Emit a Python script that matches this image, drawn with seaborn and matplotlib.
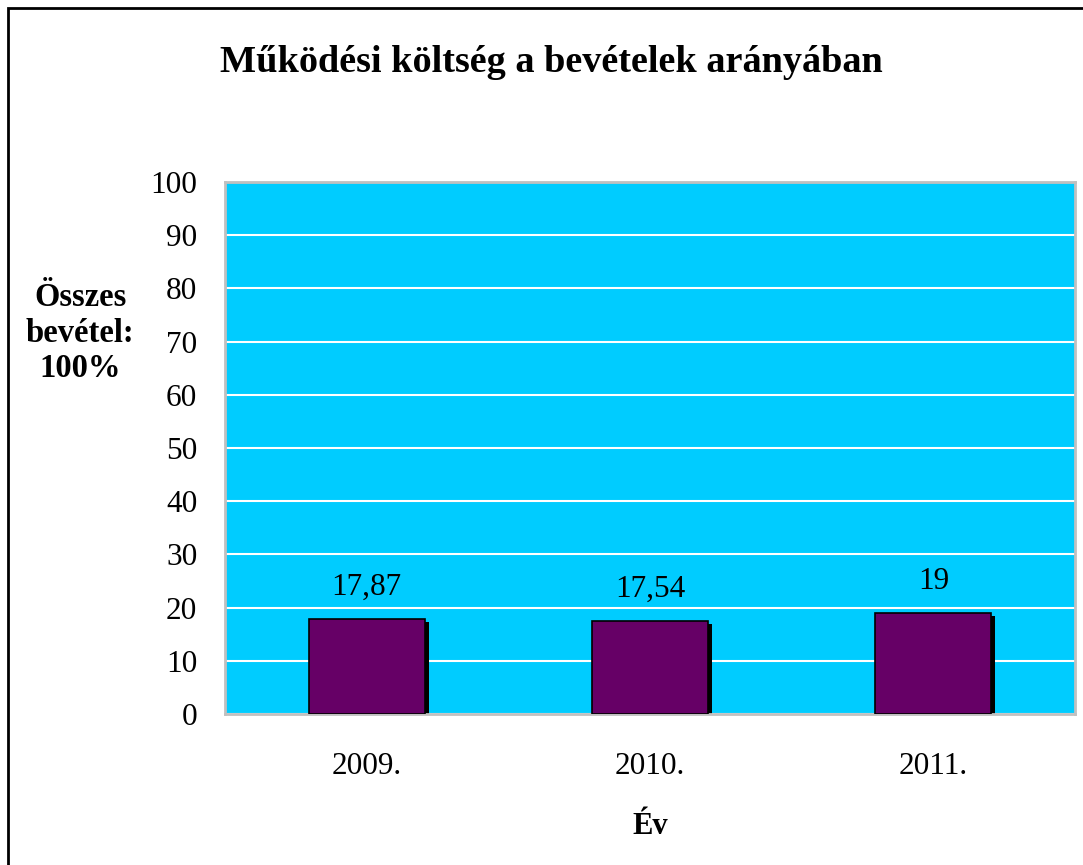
import matplotlib
matplotlib.use("Agg")
import matplotlib.pyplot as plt
import matplotlib.transforms as mtrans
import seaborn as sns
import pandas as pd
from matplotlib.patches import Rectangle

# ---------------------------------------------------------------------------
# Data
# ---------------------------------------------------------------------------
YEARS = ["2009.", "2010.", "2011."]
VALUES = [17.87, 17.54, 19.0]
VALUE_LABELS = ["17,87", "17,54", "19"]
Y_TICKS = list(range(0, 101, 10))

TITLE = "Működési költség a bevételek arányában"
Y_LABEL = "Összes\nbevétel:\n100%"
X_LABEL = "Év"

BG = "#00CCFF"
BAR = "#660066"

sns.set_theme(style="white")
plt.rcParams["font.family"] = ["Liberation Serif", "DejaVu Serif"]
plt.rcParams["text.color"] = "black"
plt.rcParams["axes.labelcolor"] = "black"
plt.rcParams["xtick.color"] = "black"
plt.rcParams["ytick.color"] = "black"

df = pd.DataFrame({"year": YEARS, "value": VALUES})

fig = plt.figure(figsize=(10.83, 8.65), dpi=100)
W, H = 1083, 865
ax = fig.add_axes([225 / W, 1 - 714 / H, (1075 - 225) / W, (714 - 182) / H])
ax.set_facecolor(BG)

# shadow bars first, then the real bars on top
sns.barplot(data=df, x="year", y="value", color="black", width=0.41,
            saturation=1, ax=ax, linewidth=0, zorder=2)
n_shadow = len(ax.patches)
sns.barplot(data=df, x="year", y="value", color=BAR, width=0.41,
            saturation=1, ax=ax, edgecolor="black", linewidth=1.2, zorder=3)

# shift shadows a few pixels right/down
off = mtrans.ScaledTranslation(4 / 100, -3 / 100, fig.dpi_scale_trans)
for p in ax.patches[:n_shadow]:
    p.set_transform(ax.transData + off)
    p.set_edgecolor("black")

n = len(YEARS)
for i, (v, lab) in enumerate(zip(VALUES, VALUE_LABELS)):
    ax.annotate(lab, (i, v), xytext=(0, 17), textcoords="offset points",
                ha="center", va="baseline", fontsize=22.5, color="black")

ax.set_ylim(0, 100)
ax.set_xlim(-0.5, n - 0.5)
ax.set_yticks(Y_TICKS)
ax.yaxis.grid(True, color="white", linewidth=1.5, zorder=1)
ax.set_axisbelow(True)
ax.tick_params(axis="y", labelsize=22.5, length=0, pad=20)
ax.tick_params(axis="x", labelsize=22.5, length=0, pad=27)
for s in ax.spines.values():
    s.set_color("#c0c0c0")
    s.set_linewidth(2)

ax.set_xlabel(X_LABEL, fontsize=22, fontweight="bold", labelpad=23)
ax.set_ylabel("")
fig.text(80 / W, 1 - 333 / H, Y_LABEL, ha="center", va="center",
         fontsize=23.5, fontweight="bold", linespacing=1.17)
fig.text(551 / W, 1 - 62 / H, TITLE, ha="center", va="center",
         fontsize=27.5, fontweight="bold")

# outer frame
fig.patches.append(Rectangle((8 / W, -0.1), 1.2, 1 - 8 / H + 0.1,
                             transform=fig.transFigure, fill=False,
                             edgecolor="black", linewidth=2))

fig.savefig("out.png", dpi=100)
